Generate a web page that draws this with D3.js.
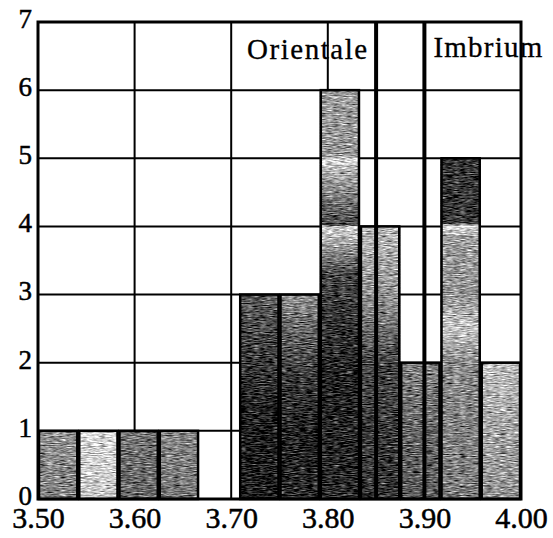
<!DOCTYPE html>
<html>
<head>
<meta charset="utf-8">
<script src="https://cdn.jsdelivr.net/npm/d3@7"></script>
<style>
  html, body { margin: 0; padding: 0; background: #fff; }
  svg { display: block; }
  svg text { font-family: "Liberation Serif", "Tinos", "DejaVu Serif", serif; }
</style>
</head>
<body>
<svg id="chart" width="553" height="538"></svg>
<script>
// Histogram of ages (Ga) with the Orientale and Imbrium basin ages marked.
const binEdges = [3.5000, 3.5417, 3.5833, 3.6250, 3.6667, 3.7083, 3.7500,
                  3.7917, 3.8333, 3.8750, 3.9167, 3.9583, 4.0000];
const counts   = [1, 1, 1, 1, 0, 3, 3, 6, 4, 2, 5, 2];
const xTicks   = [3.50, 3.60, 3.70, 3.80, 3.90, 4.00];
const yTicks   = [0, 1, 2, 3, 4, 5, 6, 7];
const eventNames = ["Orientale", "Imbrium"];
const eventAges  = [3.85, 3.90];

// Grey shading of each bar, top to bottom: [offset, grey level 0-255]
const barShades = [
  [[0,150],[1,128]],
  [[0,218],[1,198]],
  [[0,118],[1,102]],
  [[0,135],[1,118]],
  [[0,200],[1,200]],
  [[0,95],[0.3,60],[0.6,30],[1,28]],
  [[0,150],[0.15,105],[0.4,60],[0.7,32],[1,42]],
  [[0,158],[0.16,150],[0.17,225],[0.2,175],[0.33,70],[0.335,215],[0.37,175],[0.45,70],[0.7,35],[1,42]],
  [[0,188],[0.25,150],[0.5,70],[1,52]],
  [[0,132],[0.5,100],[1,92]],
  [[0,55],[0.19,58],[0.2,235],[0.23,160],[0.4,150],[0.5,200],[0.6,140],[1,122]],
  [[0,192],[0.5,165],[1,150]]
];

const svg = d3.select("#chart");
const plotL = 38, plotR = 521, plotT = 22, plotB = 499;

const x = d3.scaleLinear().domain([3.5, 4.0]).range([plotL, plotR]);
const y = d3.scaleLinear().domain([0, 7]).range([plotB, plotT]);

const defs = svg.append("defs");

// Streaky print grain laid over the bar fills
const grain = defs.append("filter").attr("id", "grain")
  .attr("x", 0).attr("y", 0).attr("width", 1).attr("height", 1)
  .attr("color-interpolation-filters", "sRGB");
grain.append("feTurbulence").attr("type", "fractalNoise")
  .attr("baseFrequency", "0.15 0.9").attr("numOctaves", 2).attr("seed", 7)
  .attr("result", "noise");
grain.append("feColorMatrix").attr("in", "noise").attr("type", "matrix")
  .attr("values", "0.33 0.33 0.33 0 0  0.33 0.33 0.33 0 0  0.33 0.33 0.33 0 0  0 0 0 0 1")
  .attr("result", "gray");
grain.append("feComposite").attr("in", "SourceGraphic").attr("in2", "gray")
  .attr("operator", "arithmetic").attr("k1", 0).attr("k2", 1).attr("k3", 2.0).attr("k4", -1.0)
  .attr("result", "mix");
grain.append("feComposite").attr("in", "mix").attr("in2", "SourceAlpha").attr("operator", "in");

barShades.forEach((stops, i) => {
  const g = defs.append("linearGradient").attr("id", "shade" + i)
    .attr("x1", 0).attr("y1", 0).attr("x2", 0).attr("y2", 1);
  stops.forEach(([o, v]) => g.append("stop").attr("offset", o).attr("stop-color", d3.rgb(v, v, v)));
});

// Grid
const grid = svg.append("g").attr("stroke", "#000").attr("stroke-width", 2);
grid.selectAll("line.h").data(yTicks.slice(1, -1)).join("line")
  .attr("x1", plotL).attr("x2", plotR).attr("y1", d => y(d)).attr("y2", d => y(d));
grid.selectAll("line.v").data(xTicks.slice(1, -1)).join("line")
  .attr("y1", plotT).attr("y2", plotB).attr("x1", d => x(d)).attr("x2", d => x(d));

// Bars
const bins = counts.map((c, i) => ({ x0: binEdges[i], x1: binEdges[i + 1], c, i }))
  .filter(d => d.c > 0);
const bars = svg.append("g");
bars.selectAll("rect.fill").data(bins).join("rect")
  .attr("class", "fill")
  .attr("x", d => x(d.x0)).attr("width", d => x(d.x1) - x(d.x0))
  .attr("y", d => y(d.c)).attr("height", d => y(0) - y(d.c))
  .attr("fill", d => `url(#shade${d.i})`)
  .attr("filter", "url(#grain)");
bars.selectAll("rect.edge").data(bins).join("rect")
  .attr("class", "edge")
  .attr("x", d => x(d.x0) + 1).attr("width", d => x(d.x1) - x(d.x0) - 2)
  .attr("y", d => y(d.c)).attr("height", d => y(0) - y(d.c))
  .attr("fill", "none").attr("stroke", "#000").attr("stroke-width", 2.5);

// Basin age markers
const ev = svg.append("g");
ev.selectAll("line").data(eventAges).join("line")
  .attr("x1", d => x(d)).attr("x2", d => x(d)).attr("y1", plotT).attr("y2", plotB)
  .attr("stroke", "#000").attr("stroke-width", 4);
ev.selectAll("text").data(eventNames).join("text")
  .attr("x", (d, i) => i === 0 ? x(eventAges[i]) - 9 : x(eventAges[i]) + 9)
  .attr("y", (d, i) => i === 0 ? 59 : 57)
  .attr("text-anchor", (d, i) => i === 0 ? "end" : "start")
  .attr("font-size", 29)
  .attr("textLength", (d, i) => i === 0 ? 120 : 109)
  .attr("lengthAdjust", "spacing")
  .attr("stroke", "#000").attr("stroke-width", 0.3)
  .text(d => d);

// Frame
svg.append("rect")
  .attr("x", plotL).attr("y", plotT).attr("width", plotR - plotL).attr("height", plotB - plotT)
  .attr("fill", "none").attr("stroke", "#000").attr("stroke-width", 3);

// Axes
const xAxis = svg.append("g").attr("transform", `translate(0,${plotB})`)
  .call(d3.axisBottom(x).tickValues(xTicks).tickFormat(d3.format(".2f")).tickSize(0));
xAxis.attr("font-family", null);
xAxis.select(".domain").remove();
xAxis.selectAll("text").attr("y", 29).attr("dy", 0)
  .attr("font-size", 30).attr("fill", "#000")
  .attr("stroke", "#000").attr("stroke-width", 0.5);

const yAxis = svg.append("g").attr("transform", `translate(${plotL},0)`)
  .call(d3.axisLeft(y).tickValues(yTicks).tickFormat(d3.format("d")).tickSize(0).tickPadding(6));
yAxis.attr("font-family", null);
yAxis.select(".domain").remove();
yAxis.selectAll("text").attr("dy", "0.2em")
  .attr("font-size", 27).attr("fill", "#000")
  .attr("stroke", "#000").attr("stroke-width", 0.5);
</script>
</body>
</html>
